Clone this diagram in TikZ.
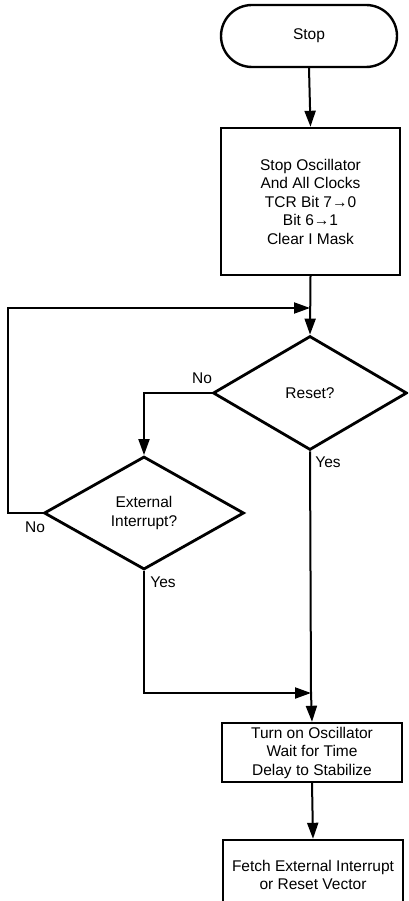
\documentclass[tikz,border=0pt]{standalone}
\usepackage{fontspec}
\setmainfont{Liberation Sans}
\usetikzlibrary{shapes.geometric,arrows.meta}
\begin{document}
\begin{tikzpicture}[x=1pt,y=-1pt,
  every node/.style={font=\fontsize{15.5}{18.5}\selectfont},
  boxnode/.style={draw,line width=2.4pt,rectangle,align=center,inner sep=0pt},
  decnode/.style={draw,line width=2.8pt,diamond,align=center,inner sep=0pt},
  conn/.style={line width=2pt},
  arr/.style={conn,-{Triangle[length=16pt,width=11pt]}},
  lbl/.style={inner sep=0pt}]
\useasboundingbox (0,0) rectangle (408,901);
\clip (0,0) rectangle (408,901);
\node[boxnode,rounded corners=31pt,minimum width=176pt,minimum height=62pt] (stop) at (309,36) {Stop};
\node[boxnode,minimum width=179pt,minimum height=147pt] (box1) at (310.5,201.5)
  {Stop Oscillator\\And All Clocks\\TCR Bit 7→0\\Bit 6→1\\Clear I Mask};
\coordinate (j1) at (310,308);
\node[decnode,minimum width=194pt,minimum height=114pt,shape aspect=1.7] (reset) at (310,393) {Reset?};
\node[decnode,minimum width=200pt,minimum height=113pt,shape aspect=1.77] (ext) at (144,513) {External\\Interrupt?};
\coordinate (j2) at (311,693);
\coordinate (lx) at (8,308);
\node[boxnode,minimum width=180pt,minimum height=59pt] (box2) at (312,752.5)
  {Turn on Oscillator\\Wait for Time\\Delay to Stabilize};
\node[boxnode,minimum width=180pt,minimum height=70pt] (box3) at (313,875)
  {Fetch External Interrupt\\or Reset Vector};
\draw[arr] (stop.south) -- (box1.north);
\draw[arr] (box1.south) -- (reset.north);
\draw[arr] (reset.west) -| (ext.north);
\draw[arr] (ext.west) -| (lx) -- (j1);
\draw[conn] (reset.south) -- (j2);
\draw[arr] (ext.south) |- (j2);
\draw[arr] (j2) -- (box2.north);
\draw[arr] (box2.south) -- (box3.north);
\node[lbl] (l1) at (202,378) {No};
\node[lbl] (l2) at (328,462) {Yes};
\node[lbl] (l3) at (35,527) {No};
\node[lbl] (l4) at (163,582) {Yes};
\end{tikzpicture}
\end{document}
